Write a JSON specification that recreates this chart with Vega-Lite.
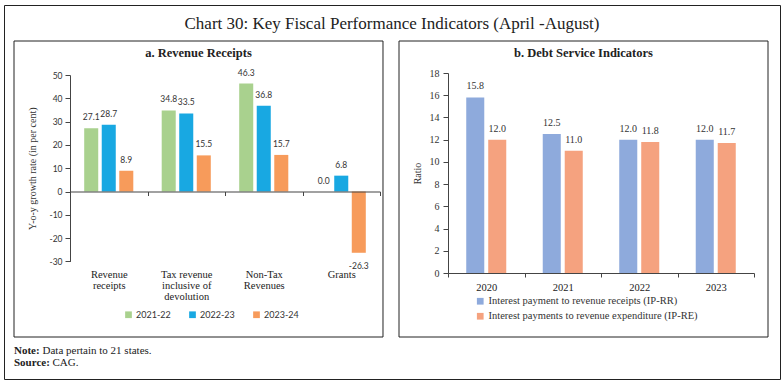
{
  "$schema": "https://vega.github.io/schema/vega-lite/v6.json",
  "width": 776,
  "height": 374,
  "autosize": {"type": "none"},
  "padding": {"left": 4, "top": 5, "right": 4, "bottom": 7},
  "background": "white",
  "view": {"stroke": "#222", "strokeWidth": 1},
  "config": {
    "font": "Liberation Serif",
    "locale": {"number": {"decimal": ".", "thousands": ",", "grouping": [3], "currency": ["$", ""], "minus": "-"}}
  },
  "resolve": {
    "scale": {"x": "independent", "y": "independent", "xOffset": "independent", "color": "independent"},
    "axis": {"x": "independent", "y": "independent"},
    "legend": {"color": "independent"}
  },
  "layer": [
    {
      "data": {"values": [{"p": "a"}, {"p": "b"}]},
      "mark": {"type": "rect", "filled": false, "stroke": "#222", "strokeWidth": 1},
      "encoding": {
        "x": {"field": "p", "type": "nominal", "scale": {"type": "band", "domain": ["a", "b"], "range": [10, 764], "paddingInner": 0.04156, "paddingOuter": 0}, "axis": null},
        "y": {"datum": "box", "type": "nominal", "scale": {"type": "band", "domain": ["box"], "range": [36, 332], "paddingInner": 0, "paddingOuter": 0}, "axis": null}
      }
    },
    {
      "data": {"values": [{"p": "a", "t": "a. Revenue Receipts"}, {"p": "b", "t": "b. Debt Service Indicators"}]},
      "mark": {"type": "text", "baseline": "alphabetic", "align": "center", "font": "Liberation Serif", "fontSize": 12.5, "fontWeight": "bold", "color": "#222"},
      "encoding": {
        "x": {"field": "p", "type": "nominal", "scale": {"type": "band", "domain": ["a", "b"], "range": [10, 764], "paddingInner": 0.04156, "paddingOuter": 0}, "axis": null},
        "y": {"datum": "t", "type": "nominal", "scale": {"type": "point", "domain": ["t"], "range": [52, 52], "padding": 0}, "axis": null},
        "text": {"field": "t", "type": "nominal"}
      }
    },
    {
      "data": {"values": [{"t": "Chart 30: Key Fiscal Performance Indicators (April -August)"}]},
      "mark": {"type": "text", "baseline": "alphabetic", "align": "center", "font": "Liberation Serif", "fontSize": 17, "color": "#222"},
      "encoding": {
        "x": {"datum": "c", "type": "nominal", "scale": {"type": "point", "domain": ["c"], "range": [388, 388], "padding": 0}, "axis": null},
        "y": {"datum": "c", "type": "nominal", "scale": {"type": "point", "domain": ["c"], "range": [24, 24], "padding": 0}, "axis": null},
        "text": {"field": "t", "type": "nominal"}
      }
    },
    {
      "data": {"values": [
        {"line": "Note", "label": "Note:", "text": "Data pertain to 21 states."},
        {"line": "Source", "label": "Source:", "text": "CAG."}
      ]},
      "encoding": {
        "x": {"datum": "l", "type": "nominal", "scale": {"type": "point", "domain": ["l"], "range": [10, 10], "padding": 0}, "axis": null},
        "y": {"field": "line", "type": "nominal", "scale": {"type": "point", "domain": ["Note", "Source"], "range": [349, 361], "padding": 0}, "axis": null}
      },
      "layer": [
        {"mark": {"type": "text", "align": "left", "baseline": "alphabetic", "font": "Liberation Serif", "fontSize": 11, "fontWeight": "bold", "color": "#222"}, "encoding": {"text": {"field": "label", "type": "nominal"}}},
        {"transform": [{"filter": "datum.line == 'Note'"}], "mark": {"type": "text", "align": "left", "baseline": "alphabetic", "font": "Liberation Serif", "fontSize": 11, "color": "#222", "dx": 28.5}, "encoding": {"text": {"field": "text", "type": "nominal"}}},
        {"transform": [{"filter": "datum.line == 'Source'"}], "mark": {"type": "text", "align": "left", "baseline": "alphabetic", "font": "Liberation Serif", "fontSize": 11, "color": "#222", "dx": 38.5}, "encoding": {"text": {"field": "text", "type": "nominal"}}}
      ]
    },
    {
      "data": {"values": [
        {"cat": "Revenue receipts", "year": "2021-22", "value": 27.1},
        {"cat": "Revenue receipts", "year": "2022-23", "value": 28.7},
        {"cat": "Revenue receipts", "year": "2023-24", "value": 8.9},
        {"cat": "Tax revenue inclusive of devolution", "year": "2021-22", "value": 34.8},
        {"cat": "Tax revenue inclusive of devolution", "year": "2022-23", "value": 33.5},
        {"cat": "Tax revenue inclusive of devolution", "year": "2023-24", "value": 15.5},
        {"cat": "Non-Tax Revenues", "year": "2021-22", "value": 46.3},
        {"cat": "Non-Tax Revenues", "year": "2022-23", "value": 36.8},
        {"cat": "Non-Tax Revenues", "year": "2023-24", "value": 15.7},
        {"cat": "Grants", "year": "2021-22", "value": 0.0},
        {"cat": "Grants", "year": "2022-23", "value": 6.8},
        {"cat": "Grants", "year": "2023-24", "value": -26.3}
      ]},
      "encoding": {
        "x": {
          "field": "cat", "type": "nominal",
          "sort": ["Revenue receipts", "Tax revenue inclusive of devolution", "Non-Tax Revenues", "Grants"],
          "scale": {"type": "band", "range": [66, 376], "paddingInner": 0, "paddingOuter": 0},
          "axis": {
            "title": null, "orient": "bottom", "offset": -187.5, "labelAngle": 0, "zindex": 1,
            "domain": true, "domainColor": "#444", "domainWidth": 1.2,
            "ticks": true, "tickBand": "extent", "tickSize": 4, "tickColor": "#444",
            "labelPadding": 74, "labelFont": "Liberation Serif", "labelFontSize": 10.5, "labelColor": "#222", "labelLineHeight": 11,
            "labelExpr": "datum.value == 'Revenue receipts' ? ['Revenue', 'receipts'] : datum.value == 'Tax revenue inclusive of devolution' ? ['Tax revenue', 'inclusive of', 'devolution'] : datum.value == 'Non-Tax Revenues' ? ['Non-Tax', 'Revenues'] : datum.value"
          }
        },
        "y": {
          "field": "value", "type": "quantitative",
          "scale": {"domain": [-30, 50], "range": [256.4, 70], "nice": false, "zero": false},
          "axis": {
            "orient": "left", "offset": -66,
            "title": "Y-o-y growth rate (in per cent)", "titleFont": "Liberation Serif", "titleFontSize": 10, "titleFontWeight": "normal", "titleColor": "#333", "titlePadding": 11,
            "values": [-30, -20, -10, 0, 10, 20, 30, 40, 50], "grid": false, "format": "d",
            "domainColor": "#444", "tickColor": "#444", "tickSize": 5, "labelPadding": 3,
            "labelFont": "Lato", "labelFontSize": 8.5, "labelColor": "#333"
          }
        }
      },
      "layer": [
        {
          "mark": {"type": "bar"},
          "encoding": {
            "xOffset": {"field": "year", "type": "nominal", "scale": {"paddingInner": 0.2, "paddingOuter": 0.81}},
            "color": {
              "field": "year", "type": "nominal",
              "scale": {"domain": ["2021-22", "2022-23", "2023-24"], "range": ["#a9d18e", "#18a8e2", "#f79b5b"]},
              "legend": {"title": null, "orient": "none", "legendX": 120, "legendY": 305, "direction": "horizontal", "symbolType": "square", "symbolSize": 45, "symbolStrokeWidth": 0, "labelFont": "Lato", "labelFontSize": 9, "labelColor": "#333", "columnPadding": 17, "labelOffset": 3}
            }
          }
        },
        {
          "transform": [{"filter": "datum.value >= 0"}],
          "mark": {"type": "text", "dy": -11, "baseline": "middle", "font": "Lato", "fontSize": 8.5, "color": "#333"},
          "encoding": {
            "xOffset": {"field": "year", "type": "nominal", "scale": {"paddingInner": 0.2, "paddingOuter": 0.81}},
            "text": {"field": "value", "type": "quantitative", "format": ".1f"}
          }
        },
        {
          "transform": [{"filter": "datum.value < 0"}],
          "mark": {"type": "text", "dy": 13, "baseline": "middle", "font": "Lato", "fontSize": 8.5, "color": "#333"},
          "encoding": {
            "xOffset": {"field": "year", "type": "nominal", "scale": {"paddingInner": 0.2, "paddingOuter": 0.81}},
            "text": {"field": "value", "type": "quantitative", "format": ".1f"}
          }
        }
      ]
    },
    {
      "data": {"values": [
        {"year": "2020", "series": "Interest payment to revenue receipts (IP-RR)", "value": 15.8},
        {"year": "2020", "series": "Interest payments to revenue expenditure (IP-RE)", "value": 12.0},
        {"year": "2021", "series": "Interest payment to revenue receipts (IP-RR)", "value": 12.5},
        {"year": "2021", "series": "Interest payments to revenue expenditure (IP-RE)", "value": 11.0},
        {"year": "2022", "series": "Interest payment to revenue receipts (IP-RR)", "value": 12.0},
        {"year": "2022", "series": "Interest payments to revenue expenditure (IP-RE)", "value": 11.8},
        {"year": "2023", "series": "Interest payment to revenue receipts (IP-RR)", "value": 12.0},
        {"year": "2023", "series": "Interest payments to revenue expenditure (IP-RE)", "value": 11.7}
      ]},
      "encoding": {
        "x": {
          "field": "year", "type": "nominal",
          "scale": {"type": "band", "range": [444, 750], "paddingInner": 0, "paddingOuter": 0},
          "axis": {
            "title": null, "orient": "bottom", "offset": -106, "labelAngle": 0, "zindex": 1,
            "domainColor": "#444", "tickBand": "extent", "tickSize": 4, "tickColor": "#444",
            "labelPadding": 5, "labelFont": "Liberation Serif", "labelFontSize": 10.5, "labelColor": "#222"
          }
        },
        "y": {
          "field": "value", "type": "quantitative",
          "scale": {"domain": [0, 18], "range": [268, 68], "nice": false},
          "axis": {
            "orient": "left", "offset": -444,
            "title": "Ratio", "titleFont": "Liberation Serif", "titleFontSize": 10, "titleFontWeight": "normal", "titleColor": "#333", "titlePadding": 7,
            "values": [0, 2, 4, 6, 8, 10, 12, 14, 16, 18], "grid": false,
            "domainColor": "#444", "tickColor": "#444", "tickSize": 5, "labelPadding": 4,
            "labelFont": "Liberation Serif", "labelFontSize": 10, "labelColor": "#333"
          }
        }
      },
      "layer": [
        {
          "mark": {"type": "bar"},
          "encoding": {
            "xOffset": {"field": "series", "type": "nominal", "scale": {"paddingInner": 0.18, "paddingOuter": 0.83}},
            "color": {
              "field": "series", "type": "nominal",
              "scale": {"domain": ["Interest payment to revenue receipts (IP-RR)", "Interest payments to revenue expenditure (IP-RE)"], "range": ["#8eaadc", "#f5a27f"]},
              "legend": {"title": null, "orient": "none", "legendX": 471, "legendY": 291, "direction": "vertical", "symbolType": "square", "symbolSize": 45, "symbolStrokeWidth": 0, "labelFont": "Liberation Serif", "labelFontSize": 10.5, "labelColor": "#333", "rowPadding": 4, "labelOffset": 3, "labelLimit": 400}
            }
          }
        },
        {
          "mark": {"type": "text", "dy": -11, "baseline": "middle", "font": "Liberation Serif", "fontSize": 10, "color": "#333"},
          "encoding": {
            "xOffset": {"field": "series", "type": "nominal", "scale": {"paddingInner": 0.18, "paddingOuter": 0.83}},
            "text": {"field": "value", "type": "quantitative", "format": ".1f"}
          }
        }
      ]
    }
  ]
}
